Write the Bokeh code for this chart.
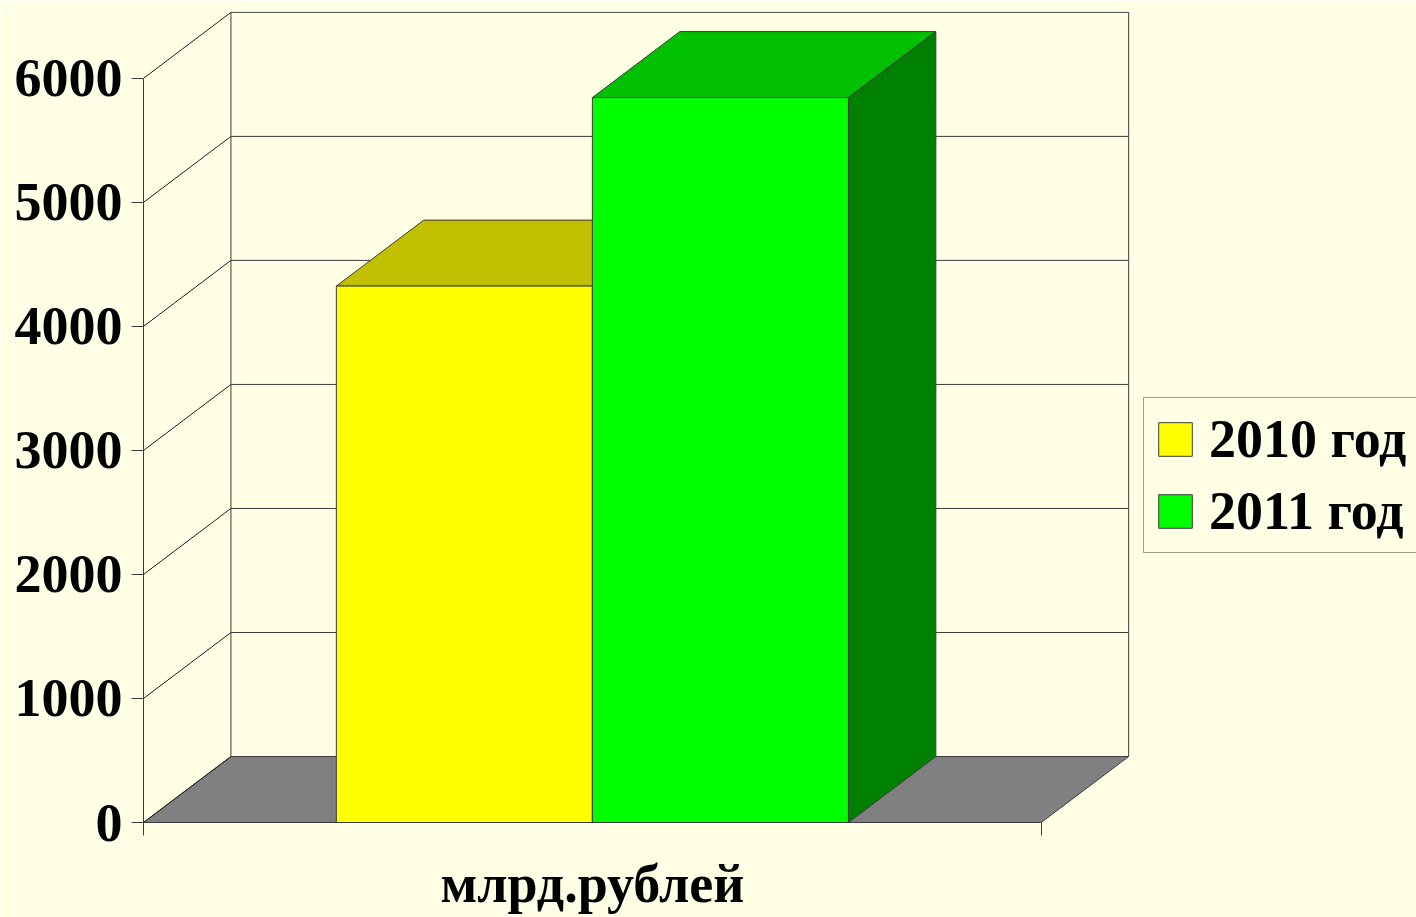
from bokeh.plotting import figure
from bokeh.models import Range1d, FixedTicker, Legend, LegendItem
from bokeh.embed import file_html
from bokeh.resources import INLINE

# ---- data ----
categories = ["млрд.рублей"]
series = ["2010 год", "2011 год"]
values_2010 = [4325]
values_2011 = [5845]
y_ticks = [0, 1000, 2000, 3000, 4000, 5000, 6000]

front_colors = ["#FFFF00", "#00FF00"]
top_colors = ["#C0C000", "#00C000"]
side_colors = ["#808000", "#008000"]

BG = "#FFFFE5"
LINE = "#3C3C3C"
FONT = "Liberation Serif"

# ---- 3D geometry (category units / value units) ----
BAR_W = 0.2852
DX = 0.0974
DY = 532
Y_MAX = 6000

p = figure(width=1416, height=917,
           x_range=Range1d(-0.5, 0.918), y_range=Range1d(0, 6539),
           output_backend="svg", toolbar_location=None,
           min_border_left=143, min_border_right=0,
           min_border_top=11, min_border_bottom=95)
p.grid.visible = False
p.outline_line_color = None
p.background_fill_color = BG
p.border_fill_color = BG

# floor
p.patch([-0.5, -0.5 + DX, 0.5 + DX, 0.5], [0, DY, DY, 0],
        fill_color="#808080", line_color=LINE, line_width=1)

# back wall gridlines and left wall diagonals
p.multi_line([[-0.5 + DX, 0.5 + DX] for v in y_ticks],
             [[v + DY, v + DY] for v in y_ticks], line_color=LINE, line_width=1)
p.multi_line([[-0.5, -0.5 + DX] for v in y_ticks],
             [[v, v + DY] for v in y_ticks], line_color="#202020", line_width=1)
p.multi_line([[-0.5 + DX, -0.5 + DX], [0.5 + DX, 0.5 + DX]],
             [[DY, Y_MAX + DY], [DY, Y_MAX + DY]], line_color=LINE, line_width=1)

# bars
all_values = [values_2010, values_2011]
items = []
for i, name in enumerate(series):
    val = all_values[i][0]
    left = 0 - BAR_W + i * BAR_W
    right = left + BAR_W
    p.patch([left, left + DX, right + DX, right], [val, val + DY, val + DY, val],
            fill_color=top_colors[i], line_color=LINE, line_width=1)
    p.patch([right, right + DX, right + DX, right], [0, DY, val + DY, val],
            fill_color=side_colors[i], line_color=LINE, line_width=1)
    r = p.quad(left=[left], right=[right], top=[val], bottom=[0],
               fill_color=front_colors[i], line_color=LINE, line_width=1)
    items.append(LegendItem(label=name, renderers=[r]))

# axes
ya = p.yaxis[0]
ya.ticker = FixedTicker(ticks=y_ticks)
ya.bounds = (0, Y_MAX)
ya.major_tick_out = 12
ya.major_tick_in = 0
ya.minor_tick_out = 0
ya.minor_tick_in = 0
ya.axis_line_color = LINE
ya.major_tick_line_color = LINE
ya.major_label_standoff = 9
ya.major_label_text_font = FONT
ya.major_label_text_font_style = "bold"
ya.major_label_text_font_size = "54px"
ya.major_label_text_color = "black"

xa = p.xaxis[0]
xa.ticker = FixedTicker(ticks=[0], minor_ticks=[-0.5, 0.5])
xa.major_label_overrides = {0: categories[0]}
xa.bounds = (-0.5, 0.5)
xa.major_tick_out = 0
xa.major_tick_in = 0
xa.minor_tick_out = 13
xa.minor_tick_in = 0
xa.axis_line_color = LINE
xa.minor_tick_line_color = LINE
xa.major_label_standoff = 18
xa.major_label_text_font = FONT
xa.major_label_text_font_style = "bold"
xa.major_label_text_font_size = "54px"
xa.major_label_text_color = "black"

legend = Legend(items=items, location=(1000, 269), margin=0,
                padding=10, spacing=10, label_standoff=13,
                glyph_width=42, glyph_height=42,
                label_text_font=FONT, label_text_font_style="bold",
                label_text_font_size="54px", label_text_color="black",
                border_line_color=LINE, border_line_width=1,
                background_fill_color=BG, background_fill_alpha=1.0)
p.add_layout(legend)

html = file_html(p, INLINE)
html = html.replace("<body>", '<body style="background-color:#FFFFE5;">', 1)
open("out.html", "w").write(html)
